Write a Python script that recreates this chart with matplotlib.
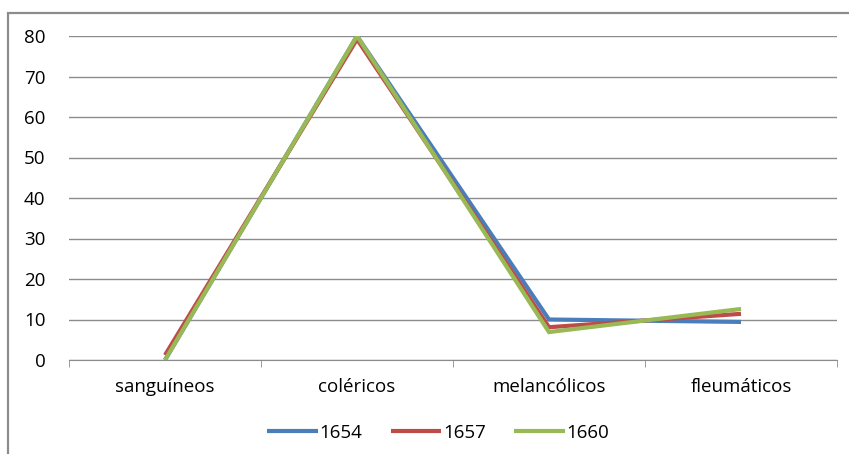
import matplotlib
matplotlib.use('Agg')
import matplotlib.pyplot as plt
from matplotlib.patches import Rectangle

plt.rcParams['font.family'] = ['Open Sans', 'DejaVu Sans']

categorias = ['sanguíneos', 'coléricos', 'melancólicos', 'fleumáticos']
s1654 = [0, 80, 10, 9.4]
s1657 = [1.2, 79.2, 8.1, 11.4]
s1660 = [0, 80, 6.9, 12.6]
anos = ['1654', '1657', '1660']
cores = ['#4a7ebb', '#be4b48', '#98b954']

fig = plt.figure(figsize=(8.49, 4.54), dpi=100)

# marco exterior del gráfico
fig.patches.append(Rectangle((8 / 849, -0.1), 1.2, 0.1 + 1 - 13 / 454,
                             transform=fig.transFigure, fill=False,
                             edgecolor='#8c8c8c', linewidth=1.6))

ax = fig.add_axes([69 / 849, 1 - 360 / 454, 768 / 849, 324 / 454])

x = range(len(categorias))
for serie, nombre, c in zip([s1654, s1657, s1660], anos, cores):
    ax.plot(x, serie, color=c, linewidth=3, label=nombre,
            solid_capstyle='butt', solid_joinstyle='miter')

ax.set_xlim(-0.5, len(categorias) - 0.5)
ax.set_ylim(0, 80)
ax.set_yticks(range(0, 81, 10))
ax.yaxis.grid(True, color='#8c8c8c', linewidth=1)
ax.set_axisbelow(True)

ax.set_xticks(x)
ax.set_xticklabels(categorias)
ax.set_xticks([i - 0.5 for i in range(len(categorias) + 1)], minor=True)
ax.tick_params(axis='x', which='major', length=0, pad=13, labelsize=13.5)
ax.tick_params(axis='x', which='minor', length=5, color='#8c8c8c', direction='out')
ax.tick_params(axis='y', length=0, pad=17, labelsize=13.5)

for lado in ['left', 'right', 'top']:
    ax.spines[lado].set_visible(False)
ax.spines['bottom'].set_color('#8c8c8c')

ax.legend(loc='center', bbox_to_anchor=(0.481, -0.225), ncol=3, frameon=False,
          fontsize=13.5, handlelength=2.7, handletextpad=0.1, columnspacing=1.5)

fig.savefig('out.png', dpi=100)
